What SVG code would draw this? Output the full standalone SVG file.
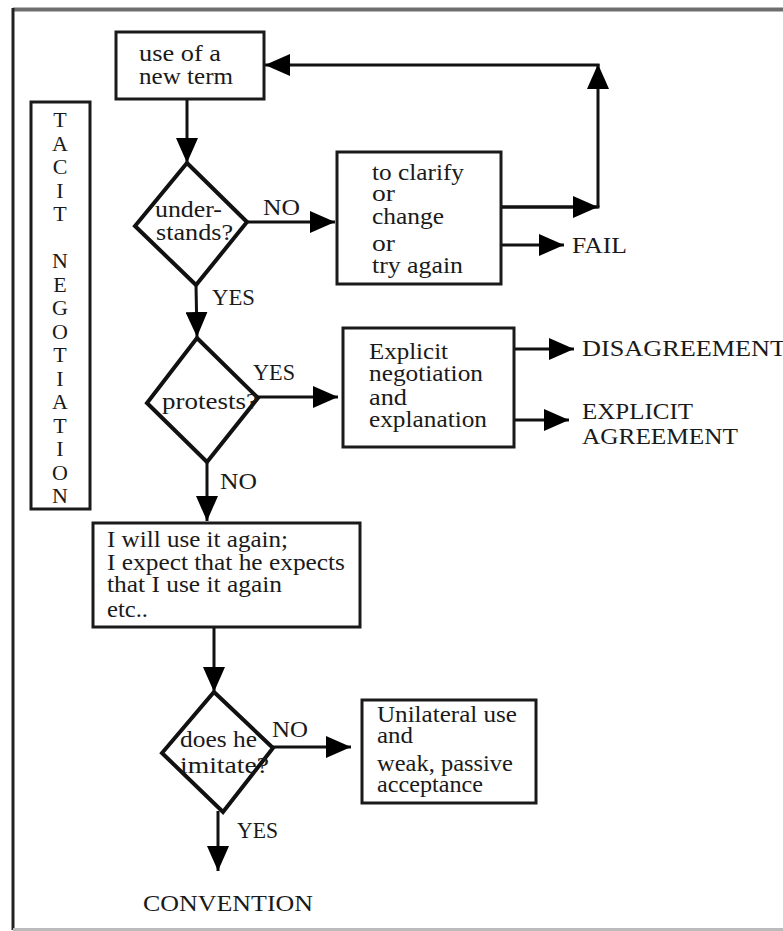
<svg xmlns="http://www.w3.org/2000/svg" width="783" height="931" viewBox="0 0 783 931">
  <style>
    .t { font-family: "Liberation Serif", "Times New Roman", serif; font-size: 23px; fill: #1a1a1a; }
    .v { font-family: "Liberation Serif", "Times New Roman", serif; font-size: 22px; fill: #1a1a1a; text-anchor: middle; }
    .box { fill: #fff; stroke: #1a1a1a; stroke-width: 3; }
    .dia { fill: none; stroke: #111; stroke-width: 4; stroke-linejoin: miter; }
    .ln { fill: none; stroke: #111; stroke-width: 3; }
    .arr { fill: none; stroke: #111; stroke-width: 3; marker-end: url(#head); }
  </style>
  <defs>
    <marker id="head" markerUnits="userSpaceOnUse" markerWidth="26" markerHeight="22" refX="25" refY="11" orient="auto">
      <path d="M0,0 L25,11 L0,22 Z" fill="#000"/>
    </marker>
  </defs>

  <rect width="783" height="931" fill="#fff"/>

  <!-- page frame -->
  <g id="frame">
    <line x1="13" y1="9.5" x2="783" y2="9.5" stroke="#6e6e6e" stroke-width="4"/>
    <line x1="13" y1="8" x2="13" y2="930" stroke="#222" stroke-width="3"/>
    <line x1="13" y1="929.5" x2="783" y2="929.5" stroke="#bbb" stroke-width="3"/>
  </g>

  <!-- vertical side label -->
  <g id="tacit-negotiation">
    <rect class="box" x="31" y="102" width="59" height="407"/>
    <text class="v" x="60" y="127">T</text>
    <text class="v" x="60" y="151">A</text>
    <text class="v" x="60" y="174">C</text>
    <text class="v" x="60" y="198">I</text>
    <text class="v" x="60" y="221">T</text>
    <text class="v" x="60" y="268">N</text>
    <text class="v" x="60" y="292">E</text>
    <text class="v" x="60" y="315">G</text>
    <text class="v" x="60" y="339">O</text>
    <text class="v" x="60" y="362">T</text>
    <text class="v" x="60" y="386">I</text>
    <text class="v" x="60" y="409">A</text>
    <text class="v" x="60" y="433">T</text>
    <text class="v" x="60" y="456">I</text>
    <text class="v" x="60" y="480">O</text>
    <text class="v" x="60" y="503">N</text>
  </g>

  <!-- connectors -->
  <g id="connectors">
    <line class="arr" x1="187" y1="99" x2="187" y2="163"/>
    <line class="arr" x1="247" y1="222" x2="335" y2="222"/>
    <line class="ln" x1="501" y1="207" x2="599.5" y2="207"/>
    <line class="arr" x1="501" y1="207" x2="598" y2="207"/>
    <line class="arr" x1="598" y1="207" x2="598" y2="64"/>
    <line class="ln" x1="599.5" y1="65" x2="598" y2="65"/>
    <line class="arr" x1="598" y1="65" x2="265" y2="65"/>
    <line class="arr" x1="501" y1="245" x2="564" y2="245"/>
    <line class="arr" x1="196" y1="285" x2="197" y2="337"/>
    <line class="arr" x1="258" y1="397" x2="338" y2="397"/>
    <line class="arr" x1="514" y1="349" x2="574" y2="349"/>
    <line class="arr" x1="514" y1="420" x2="569" y2="420"/>
    <line class="arr" x1="207" y1="462" x2="207" y2="521"/>
    <line class="arr" x1="214" y1="627" x2="214" y2="692"/>
    <line class="arr" x1="273" y1="747" x2="351" y2="747"/>
    <line class="arr" x1="218" y1="811" x2="218" y2="871"/>
  </g>

  <!-- connector labels -->
  <g id="labels">
    <text class="t" x="263" y="215" textLength="37" lengthAdjust="spacingAndGlyphs">NO</text>
    <text class="t" x="212" y="305" textLength="43" lengthAdjust="spacingAndGlyphs">YES</text>
    <text class="t" x="253" y="380" textLength="42" lengthAdjust="spacingAndGlyphs">YES</text>
    <text class="t" x="220" y="489" textLength="37" lengthAdjust="spacingAndGlyphs">NO</text>
    <text class="t" x="272" y="737" textLength="36" lengthAdjust="spacingAndGlyphs">NO</text>
    <text class="t" x="237" y="838" textLength="41" lengthAdjust="spacingAndGlyphs">YES</text>
  </g>

  <g id="new-term">
    <rect class="box" x="116" y="32" width="148" height="67"/>
    <text class="t" x="139" y="61" textLength="82" lengthAdjust="spacingAndGlyphs">use of a</text>
    <text class="t" x="139" y="84" textLength="94" lengthAdjust="spacingAndGlyphs">new term</text>
  </g>

  <g id="understands">
    <polygon class="dia" points="187,163 247,222 196,285 135,226"/>
    <text class="t" x="155" y="217" textLength="67" lengthAdjust="spacingAndGlyphs">under-</text>
    <text class="t" x="156" y="240" textLength="77" lengthAdjust="spacingAndGlyphs">stands?</text>
  </g>

  <g id="clarify">
    <rect class="box" x="337" y="152" width="164" height="132"/>
    <text class="t" x="372" y="180" textLength="92" lengthAdjust="spacingAndGlyphs">to clarify</text>
    <text class="t" x="372" y="201" textLength="23" lengthAdjust="spacingAndGlyphs">or</text>
    <text class="t" x="372" y="224" textLength="72" lengthAdjust="spacingAndGlyphs">change</text>
    <text class="t" x="372" y="251" textLength="23" lengthAdjust="spacingAndGlyphs">or</text>
    <text class="t" x="372" y="273" textLength="91" lengthAdjust="spacingAndGlyphs">try again</text>
  </g>

  <g id="fail">
    <text class="t" x="572" y="253" textLength="55" lengthAdjust="spacingAndGlyphs">FAIL</text>
  </g>

  <g id="protests">
    <polygon class="dia" points="197,338 258,398 207,462 147,403"/>
    <text class="t" x="162" y="409" textLength="96" lengthAdjust="spacingAndGlyphs">protests?</text>
  </g>

  <g id="explicit-negotiation">
    <rect class="box" x="343" y="328" width="171" height="119"/>
    <text class="t" x="369" y="359" textLength="79" lengthAdjust="spacingAndGlyphs">Explicit</text>
    <text class="t" x="369" y="381" textLength="114" lengthAdjust="spacingAndGlyphs">negotiation</text>
    <text class="t" x="369" y="405" textLength="38" lengthAdjust="spacingAndGlyphs">and</text>
    <text class="t" x="369" y="427" textLength="118" lengthAdjust="spacingAndGlyphs">explanation</text>
  </g>

  <g id="disagreement">
    <text class="t" x="582" y="356" textLength="204" lengthAdjust="spacingAndGlyphs">DISAGREEMENT</text>
  </g>

  <g id="explicit-agreement">
    <text class="t" x="582" y="419" textLength="111" lengthAdjust="spacingAndGlyphs">EXPLICIT</text>
    <text class="t" x="582" y="444" textLength="156" lengthAdjust="spacingAndGlyphs">AGREEMENT</text>
  </g>

  <g id="use-again">
    <rect class="box" x="93" y="523" width="267" height="104"/>
    <text class="t" x="107" y="547" textLength="181" lengthAdjust="spacingAndGlyphs">I will use it again;</text>
    <text class="t" x="107" y="570" textLength="238" lengthAdjust="spacingAndGlyphs">I expect that he expects</text>
    <text class="t" x="107" y="592" textLength="175" lengthAdjust="spacingAndGlyphs">that I use it again</text>
    <text class="t" x="107" y="617" textLength="41" lengthAdjust="spacingAndGlyphs">etc..</text>
  </g>

  <g id="imitate">
    <polygon class="dia" points="214,692 273,748 223,812 162,753"/>
    <text class="t" x="180" y="747" textLength="77" lengthAdjust="spacingAndGlyphs">does he</text>
    <text class="t" x="180" y="773" textLength="89" lengthAdjust="spacingAndGlyphs">imitate?</text>
  </g>

  <g id="unilateral">
    <rect class="box" x="362" y="700" width="174" height="103"/>
    <text class="t" x="377" y="722" textLength="140" lengthAdjust="spacingAndGlyphs">Unilateral use</text>
    <text class="t" x="377" y="743" textLength="36" lengthAdjust="spacingAndGlyphs">and</text>
    <text class="t" x="377" y="771" textLength="136" lengthAdjust="spacingAndGlyphs">weak, passive</text>
    <text class="t" x="377" y="792" textLength="106" lengthAdjust="spacingAndGlyphs">acceptance</text>
  </g>

  <g id="convention">
    <text class="t" x="143" y="911" textLength="170" lengthAdjust="spacingAndGlyphs">CONVENTION</text>
  </g>
</svg>
